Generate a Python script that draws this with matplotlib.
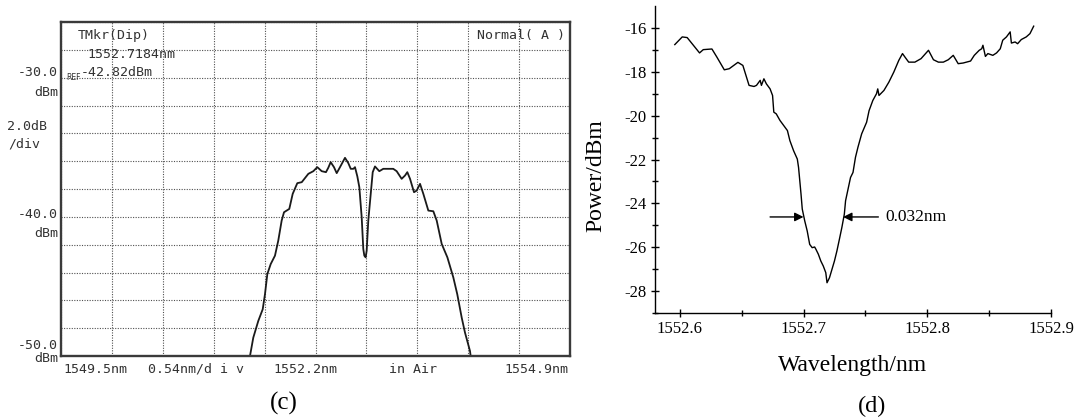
import numpy as np
import matplotlib
matplotlib.use("Agg")
import matplotlib.pyplot as plt

# ---------------- data: panel (c) OSA trace ----------------
c_wl = [1551.505, 1551.540, 1551.593, 1551.640, 1551.664, 1551.689, 1551.725, 1551.770,
        1551.805, 1551.841, 1551.866, 1551.922, 1551.958, 1552.007, 1552.054, 1552.124,
        1552.177, 1552.219, 1552.266, 1552.311, 1552.336, 1552.361, 1552.396, 1552.425,
        1552.460, 1552.513, 1552.548, 1552.574, 1552.602, 1552.619, 1552.644, 1552.665,
        1552.690, 1552.707, 1552.718, 1552.732, 1552.743, 1552.760, 1552.786, 1552.807,
        1552.831, 1552.877, 1552.919, 1553.025, 1553.061, 1553.114, 1553.150, 1553.174,
        1553.203, 1553.245, 1553.274, 1553.309, 1553.344, 1553.397, 1553.450, 1553.486,
        1553.539, 1553.599, 1553.662, 1553.704, 1553.751, 1553.786, 1553.839, 1553.846]
c_pw = [-50.0, -48.68, -47.48, -46.64, -45.56, -44.11, -43.39, -42.79,
        -41.71, -40.27, -39.67, -39.43, -38.35, -37.58, -37.51, -36.91,
        -36.72, -36.43, -36.72, -36.79, -36.47, -36.07, -36.43, -36.86,
        -36.43, -35.76, -36.14, -36.55, -36.55, -36.43, -37.10, -37.87,
        -40.03, -42.31, -42.79, -42.91, -42.43, -40.27, -38.35, -36.79,
        -36.38, -36.72, -36.55, -36.55, -36.72, -37.27, -37.03, -36.79,
        -37.27, -38.23, -38.11, -37.63, -38.35, -39.55, -39.60, -40.27,
        -41.95, -42.91, -44.35, -45.56, -47.24, -48.32, -49.64, -50.0]

c_x_start, c_x_stop, c_x_div = 1549.5, 1554.9, 10
c_y_bottom, c_y_top, c_y_step = -50.0, -26.0, 2.0

# ---------------- data: panel (d) zoomed dip ----------------
d_wl = [1552.596, 1552.602, 1552.606, 1552.616, 1552.619, 1552.626, 1552.630, 1552.636,
        1552.640, 1552.647, 1552.651, 1552.656, 1552.660, 1552.662, 1552.665, 1552.666,
        1552.668, 1552.670, 1552.673, 1552.675, 1552.676, 1552.678, 1552.681, 1552.684,
        1552.687, 1552.689, 1552.692, 1552.695, 1552.696, 1552.697, 1552.698, 1552.699,
        1552.701, 1552.703, 1552.705, 1552.707, 1552.709, 1552.710, 1552.712, 1552.714,
        1552.716, 1552.718, 1552.719, 1552.721, 1552.723, 1552.725, 1552.727, 1552.729,
        1552.731, 1552.733, 1552.734, 1552.736, 1552.738, 1552.740, 1552.742, 1552.744,
        1552.747, 1552.751, 1552.753, 1552.756, 1552.759, 1552.760, 1552.761, 1552.765,
        1552.769, 1552.773, 1552.777, 1552.780, 1552.782, 1552.785, 1552.790, 1552.795,
        1552.801, 1552.805, 1552.809, 1552.813, 1552.817, 1552.821, 1552.825, 1552.829,
        1552.835, 1552.838, 1552.842, 1552.844, 1552.845, 1552.847, 1552.849, 1552.853,
        1552.856, 1552.859, 1552.861, 1552.864, 1552.867, 1552.868, 1552.871, 1552.873,
        1552.876, 1552.880, 1552.883, 1552.886]
d_pw = [-16.76, -16.41, -16.44, -17.14, -16.99, -16.96, -17.33, -17.91,
        -17.86, -17.57, -17.71, -18.62, -18.67, -18.62, -18.39, -18.62,
        -18.32, -18.55, -18.78, -19.08, -19.84, -19.92, -20.22, -20.45,
        -20.68, -21.14, -21.60, -21.98, -22.36, -22.97, -23.58, -24.26,
        -24.80, -25.26, -25.87, -26.02, -25.99, -26.09, -26.32, -26.63,
        -26.86, -27.16, -27.62, -27.39, -27.01, -26.63, -26.17, -25.64,
        -25.10, -24.49, -23.88, -23.35, -22.82, -22.59, -21.90, -21.44,
        -20.83, -20.30, -19.77, -19.31, -19.00, -18.78, -19.08, -18.85,
        -18.47, -18.01, -17.48, -17.17, -17.33, -17.56, -17.56, -17.40,
        -17.02, -17.45, -17.56, -17.56, -17.45, -17.25, -17.63, -17.60,
        -17.51, -17.25, -17.02, -16.95, -16.79, -17.30, -17.17, -17.25,
        -17.14, -16.95, -16.56, -16.41, -16.18, -16.69, -16.64, -16.72,
        -16.53, -16.41, -16.26, -15.92]

d_xticks = [1552.6, 1552.7, 1552.8, 1552.9]
d_yticks = [-16, -18, -20, -22, -24, -26, -28]
d_xlim = (1552.58, 1552.9)
d_ylim = (-29, -15)

fwhm_label = "0.032nm"
fwhm_left, fwhm_right, fwhm_level = 1552.700, 1552.732, -24.62
arrow_left_tail, arrow_right_tail, label_x = 1552.673, 1552.7605, 1552.766

# ---------------- figure ----------------
W, H = 1078, 419
fig = plt.figure(figsize=(W / 100, H / 100), dpi=100)
fig.patch.set_facecolor("white")

def fx(px):
    return px / W

def fy(py):
    return 1 - py / H

# ---- panel (c) ----
axc = fig.add_axes([fx(61), fy(356), fx(570) - fx(61), fy(22) - fy(356)])
axc.set_xlim(c_x_start, c_x_stop)
axc.set_ylim(c_y_bottom, c_y_top)
axc.set_xticks(np.linspace(c_x_start, c_x_stop, c_x_div + 1))
axc.set_yticks(np.arange(c_y_bottom, c_y_top + 0.01, c_y_step))
axc.tick_params(length=0, labelbottom=False, labelleft=False)
axc.grid(True, color="#505050", linestyle=(0, (1, 1.3)), linewidth=0.8)
for s in axc.spines.values():
    s.set_color("#3a3a3a")
    s.set_linewidth(1.7)
axc.plot(c_wl, c_pw, color="#1a1a1a", linewidth=1.3)

mono = dict(family="DejaVu Sans Mono", fontsize=9.5, color="#333333")
fig.text(fx(58), fy(72), "-30.0", ha="right", va="center", **mono)
fig.text(fx(58), fy(92), "dBm", ha="right", va="center", **mono)
fig.text(fx(66), fy(78), "REF", ha="left", va="center", family="DejaVu Sans",
         fontsize=5.5, color="#333333")
fig.text(fx(7), fy(126), "2.0dB", ha="left", va="center", **mono)
fig.text(fx(8), fy(144), "/div", ha="left", va="center", **mono)
fig.text(fx(58), fy(214), "-40.0", ha="right", va="center", **mono)
fig.text(fx(58), fy(233), "dBm", ha="right", va="center", **mono)
fig.text(fx(58), fy(345), "-50.0", ha="right", va="center", **mono)
fig.text(fx(58), fy(358), "dBm", ha="right", va="center", **mono)

fig.text(fx(78), fy(35), "TMkr(Dip)", ha="left", va="center", **mono)
fig.text(fx(87), fy(54), "1552.7184nm", ha="left", va="center", **mono)
fig.text(fx(81), fy(72), "-42.82dBm", ha="left", va="center", **mono)
fig.text(fx(477), fy(35), "Normal( A )", ha="left", va="center", **mono)

fig.text(fx(63), fy(369), "1549.5nm", ha="left", va="center", **mono)
fig.text(fx(148), fy(369), "0.54nm/d i v", ha="left", va="center", **mono)
fig.text(fx(273), fy(369), "1552.2nm", ha="left", va="center", **mono)
fig.text(fx(389), fy(369), "in Air", ha="left", va="center", **mono)
fig.text(fx(568), fy(369), "1554.9nm", ha="right", va="center", **mono)

serif = "Liberation Serif"
fig.text(fx(284), fy(403), "(c)", ha="center", va="center", family=serif, fontsize=18)

# ---- panel (d) ----
axd = fig.add_axes([fx(655), fy(313), fx(1051) - fx(655), fy(6) - fy(313)])
axd.set_xlim(*d_xlim)
axd.set_ylim(*d_ylim)
axd.spines["top"].set_visible(False)
axd.spines["right"].set_visible(False)
for s in ("left", "bottom"):
    axd.spines[s].set_linewidth(1.0)
axd.set_xticks(d_xticks)
axd.set_xticklabels([f"{v:.1f}" for v in d_xticks])
axd.set_xticks(np.arange(1552.65, 1552.9, 0.1), minor=True)
axd.set_yticks(d_yticks)
axd.set_yticklabels([f"{v:d}" for v in d_yticks])
axd.set_yticks(np.arange(-29, -15.5, 2), minor=True)
axd.tick_params(which="major", direction="inout", length=6, width=1.0,
                labelsize=12, pad=3)
axd.tick_params(which="minor", direction="inout", length=4, width=1.0)
for lab in axd.get_xticklabels() + axd.get_yticklabels():
    lab.set_family(serif)
axd.plot(d_wl, d_pw, color="black", linewidth=1.0)

arrow_props = dict(arrowstyle="-|>", color="black", lw=1.0, mutation_scale=13,
                   shrinkA=0, shrinkB=0)
axd.annotate("", xy=(fwhm_left, fwhm_level), xytext=(arrow_left_tail, fwhm_level),
             arrowprops=arrow_props)
axd.annotate("", xy=(fwhm_right, fwhm_level), xytext=(arrow_right_tail, fwhm_level),
             arrowprops=arrow_props)
axd.text(label_x, fwhm_level, fwhm_label, ha="left", va="center",
         family=serif, fontsize=12.5)

fig.text(fx(596), fy(176), "Power/dBm", rotation=90, ha="center", va="center",
         family=serif, fontsize=17)
fig.text(fx(853), fy(365), "Wavelength/nm", ha="center", va="center",
         family=serif, fontsize=17)
fig.text(fx(872), fy(417), "(d)", ha="center", va="bottom", family=serif, fontsize=17.5)

fig.savefig("out.png", dpi=100, facecolor="white")
